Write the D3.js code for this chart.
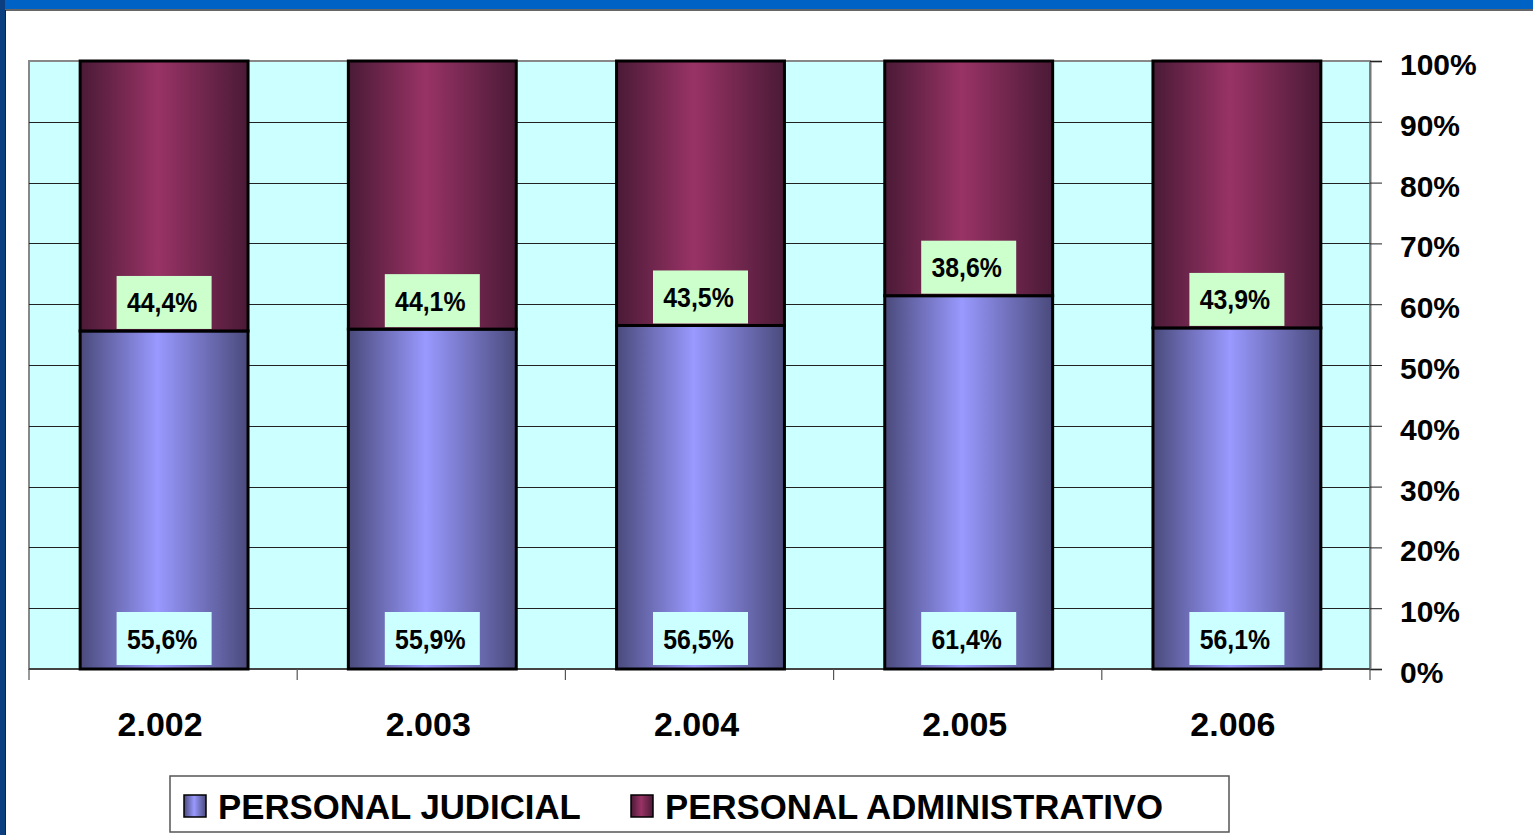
<!DOCTYPE html>
<html>
<head>
<meta charset="utf-8">
<script src="https://cdn.jsdelivr.net/npm/d3@7"></script>
<style>
  body { margin: 0; background: #fff; }
  text { font-family: Arial, "Liberation Sans", sans-serif; font-weight: bold; }
</style>
</head>
<body>
<div id="chart"></div>
<script>
// data
const years = ["2.002", "2.003", "2.004", "2.005", "2.006"];
const judicial = [55.6, 55.9, 56.5, 61.4, 56.1];
const administrativo = [44.4, 44.1, 43.5, 38.6, 43.9];
const yTicks = [0, 10, 20, 30, 40, 50, 60, 70, 80, 90, 100];
const seriesNames = ["PERSONAL JUDICIAL", "PERSONAL ADMINISTRATIVO"];

const width = 1533, height = 835;
const plot = {left: 29, right: 1370, top: 61, bottom: 669};

const svg = d3.select('#chart').append('svg')
    .attr('width', width)
    .attr('height', height);

// gradients (cylinder look)
const defs = svg.append('defs');
function addGrad(id, edge, mid) {
    const g = defs.append('linearGradient').attr('id', id)
        .attr('x1', '0%').attr('x2', '100%').attr('y1', '0%').attr('y2', '0%');
    g.append('stop').attr('offset', '0%').attr('stop-color', edge);
    g.append('stop').attr('offset', '46%').attr('stop-color', mid);
    g.append('stop').attr('offset', '100%').attr('stop-color', edge);
}
addGrad('gJud', '#4a4a7c', '#9999ff');
addGrad('gAdm', '#4a1a36', '#993366');
const fills = ['url(#gJud)', 'url(#gAdm)'];

// slide frame
svg.append('rect').attr('x', 0).attr('y', 0).attr('width', width).attr('height', 9).attr('fill', '#0062c4');
svg.append('rect').attr('x', 0).attr('y', 0).attr('width', 5).attr('height', height).attr('fill', '#0b3f80');
svg.append('line').attr('x1', 5).attr('x2', width).attr('y1', 10).attr('y2', 10)
    .attr('stroke', '#333').attr('stroke-width', 1.5);
svg.append('line').attr('x1', 5.5).attr('x2', 5.5).attr('y1', 10).attr('y2', height)
    .attr('stroke', '#222').attr('stroke-width', 1);

// scales
const x = d3.scaleBand().domain(years).range([plot.left, plot.right]).padding(0);
const y = d3.scaleLinear().domain([0, 100]).range([plot.bottom, plot.top]);
const barW = x.bandwidth() * 0.626;

// plot area
svg.append('rect')
    .attr('x', plot.left).attr('y', plot.top)
    .attr('width', plot.right - plot.left).attr('height', plot.bottom - plot.top)
    .attr('fill', '#ccffff').attr('stroke', '#888').attr('stroke-width', 2);

// gridlines
svg.append('g').selectAll('line')
    .data(yTicks.filter(d => d > 0 && d < 100))
    .join('line')
        .attr('x1', plot.left).attr('x2', plot.right)
        .attr('y1', d => Math.round(y(d)) + 0.5).attr('y2', d => Math.round(y(d)) + 0.5)
        .attr('stroke', '#222').attr('stroke-width', 1);

// right axis
const yAxis = d3.axisRight(y)
    .tickValues(yTicks)
    .tickFormat(d => d + '%')
    .tickSize(12)
    .tickPadding(18);
const yG = svg.append('g')
    .attr('transform', `translate(${plot.right}, 0)`)
    .call(yAxis);
yG.select('.domain').attr('stroke', '#777').attr('stroke-width', 2);
yG.selectAll('.tick line').attr('stroke', '#222');
yG.selectAll('.tick text').attr('font-size', 30).attr('fill', '#000').attr('dy', '0.45em')
    .style('font-family', 'Arial, "Liberation Sans", sans-serif');

// bottom axis line + category boundary ticks
svg.append('line')
    .attr('x1', plot.left).attr('x2', plot.right)
    .attr('y1', plot.bottom).attr('y2', plot.bottom)
    .attr('stroke', '#444').attr('stroke-width', 2);
const bounds = years.map(d => x(d)).concat([plot.right]);
svg.append('g').selectAll('line')
    .data(bounds)
    .join('line')
        .attr('x1', d => d).attr('x2', d => d)
        .attr('y1', plot.bottom).attr('y2', plot.bottom + 11)
        .attr('stroke', '#555').attr('stroke-width', 1.2);

// category labels
svg.append('g').selectAll('text')
    .data(years)
    .join('text')
        .attr('x', d => x(d) + x.bandwidth() / 2 - 3)
        .attr('y', 736)
        .attr('text-anchor', 'middle')
        .attr('font-size', 34)
        .text(d => d);

// stacked bars
const rows = years.map((d, i) => ({year: d, jud: judicial[i], adm: administrativo[i]}));
const stack = d3.stack().keys(['jud', 'adm'])(rows);

svg.append('g').selectAll('g')
    .data(stack)
    .join('g')
        .attr('fill', (d, i) => fills[i])
        .selectAll('rect')
        .data(d => d)
        .join('rect')
            .attr('x', d => x(d.data.year) + (x.bandwidth() - barW) / 2 + 1)
            .attr('y', d => y(d[1]))
            .attr('width', barW)
            .attr('height', d => y(d[0]) - y(d[1]))
            .attr('stroke', '#000')
            .attr('stroke-width', 3);

// data labels
const boxW = 95, boxH = 53;
function label(val, cx, bottom, bg) {
    const g = svg.append('g');
    g.append('rect')
        .attr('x', cx - boxW / 2).attr('y', bottom - boxH)
        .attr('width', boxW).attr('height', boxH)
        .attr('fill', bg);
    g.append('text')
        .attr('transform', `translate(${cx - 2}, ${bottom - boxH / 2 + 10}) scale(0.92, 1)`)
        .attr('text-anchor', 'middle')
        .attr('font-size', 27)
        .text(d3.format('.1f')(val).replace('.', ',') + '%');
}
rows.forEach(r => {
    const cx = x(r.year) + x.bandwidth() / 2 + 1;
    label(r.adm, cx, y(r.jud) - 2, '#ccffcc');
    label(r.jud, cx, y(0) - 4, '#ccffff');
});

// legend
const leg = svg.append('g');
leg.append('rect')
    .attr('x', 170).attr('y', 776).attr('width', 1059).attr('height', 56)
    .attr('fill', '#fff').attr('stroke', '#555').attr('stroke-width', 1.5);
const legX = [184, 631];
seriesNames.forEach((name, i) => {
    leg.append('rect')
        .attr('x', legX[i]).attr('y', 795).attr('width', 22).attr('height', 22)
        .attr('fill', fills[i]).attr('stroke', '#000').attr('stroke-width', 1.5);
    leg.append('text')
        .attr('x', legX[i] + 34).attr('y', 819)
        .attr('font-size', 34.8)
        .text(name);
});
</script>
</body>
</html>
